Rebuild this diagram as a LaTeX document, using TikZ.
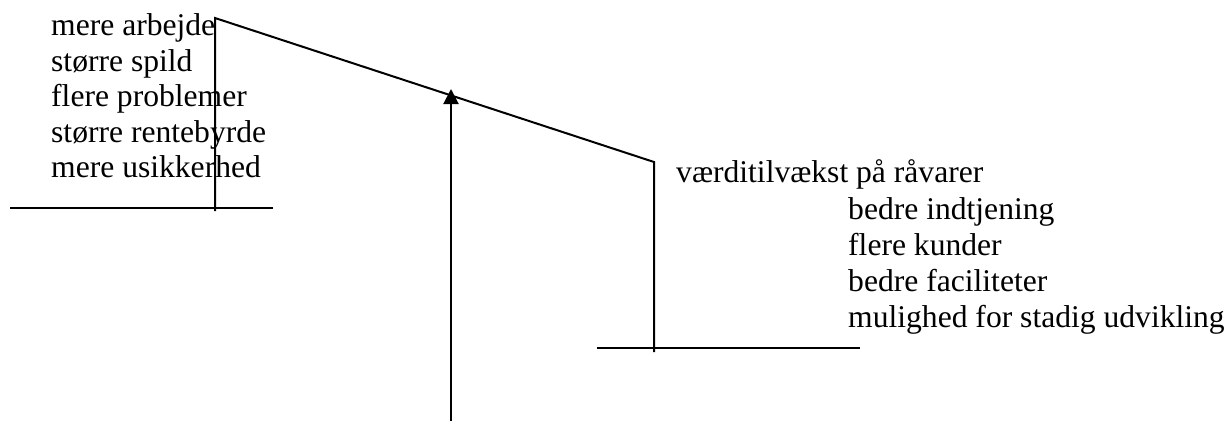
\documentclass[tikz,border=0pt]{standalone}
\usepackage{fontspec}
\setmainfont{Liberation Serif}
\usetikzlibrary{arrows.meta}
\begin{document}
\begin{tikzpicture}[x=1pt,y=-1pt,
  ln/.style={line width=2pt,black},
  txt/.style={anchor=base west,inner sep=0pt,font=\fontsize{31.6}{36}\selectfont}]
\useasboundingbox (0,0) rectangle (1232,421);
% coordinates
\coordinate (tl) at (215,18);
\coordinate (tlb) at (215,211);
\coordinate (hl1) at (10,208);
\coordinate (hl2) at (273,208);
\coordinate (tr) at (654,162);
\coordinate (trb) at (654,352);
\coordinate (hr1) at (597,348);
\coordinate (hr2) at (860,348);
\coordinate (ab) at (451,421);
\coordinate (at) at (451,89);
% left texts
\node[txt] (l1) at (51,35) {mere arbejde};
\node[txt] (l2) at (51,71) {større spild};
\node[txt] (l3) at (51,106.5) {flere problemer};
\node[txt] (l4) at (51,142) {større rentebyrde};
\node[txt] (l5) at (51,177.5) {mere usikkerhed};
% right texts
\node[txt] (r1) at (676,182) {værditilvækst på råvarer};
\node[txt] (r2) at (848,219) {bedre indtjening};
\node[txt] (r3) at (848,255) {flere kunder};
\node[txt] (r4) at (848,291) {bedre faciliteter};
\node[txt] (r5) at (848,327) {mulighed for stadig udvikling};
% lines
\draw[ln] (tlb) -- (tl) -- (tr) -- (trb);
\draw[ln] (hl1) -- (hl2);
\draw[ln] (hr1) -- (hr2);
\draw[ln,-{Triangle[length=15pt,width=15pt]}] (ab) -- (at);
\end{tikzpicture}
\end{document}
